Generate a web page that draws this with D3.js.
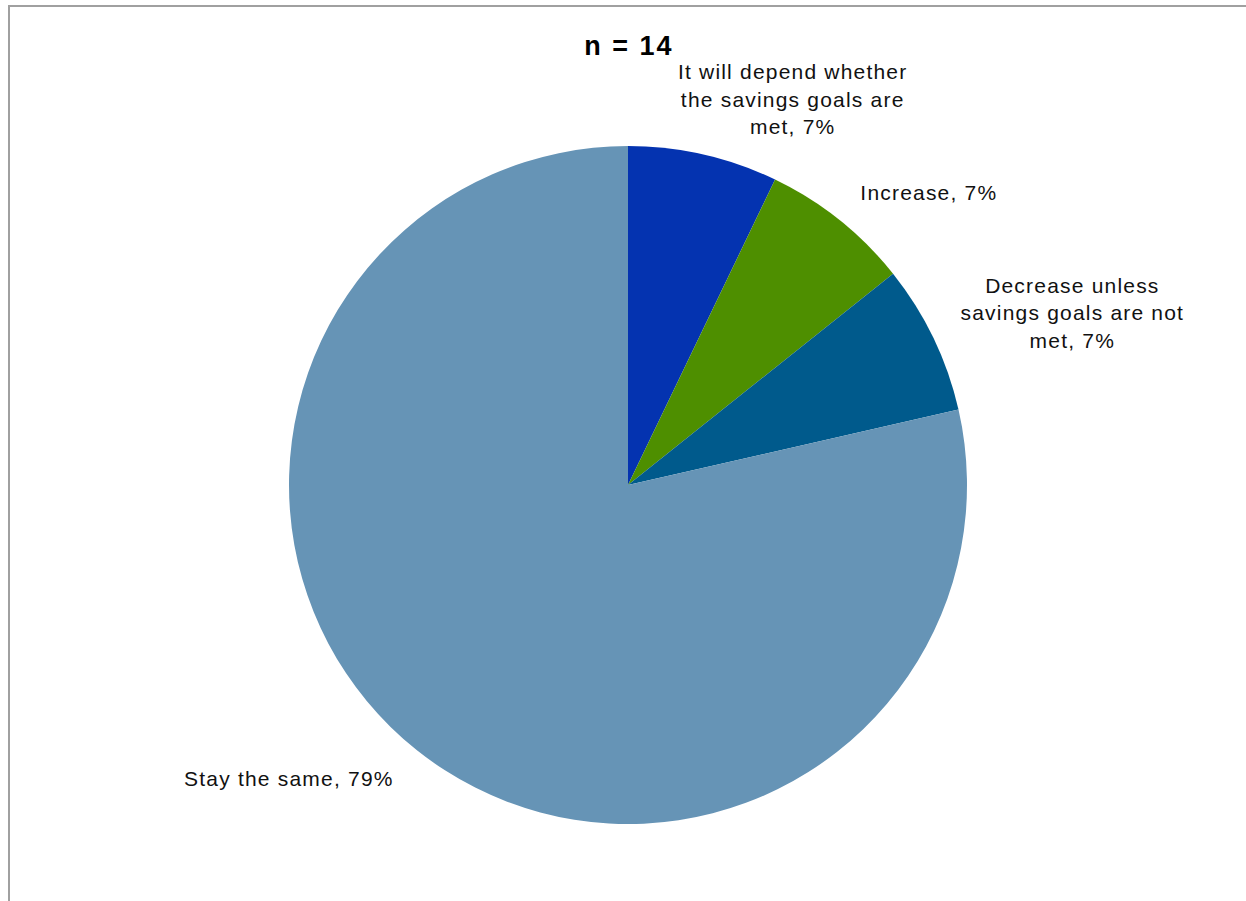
<!DOCTYPE html>
<html lang="en">
<head>
    <meta charset="UTF-8">
    <title>n = 14</title>
    <script src="https://d3js.org/d3.v7.min.js"></script>
    <style>
      body { margin: 0; background: #fff; font-family: "Liberation Sans", Arial, sans-serif; }
      .frame { stroke: #a0a0a0; stroke-width: 2; fill: none; }
      .title { font-size: 27px; font-weight: bold; fill: #000; letter-spacing: 2px; }
      .slice-label { font-size: 21px; fill: #111; letter-spacing: 1.2px; }
    </style>
</head>
<body>
    <svg width="1246" height="901"></svg>
    <script>
      // data
      const categories = [
        ['It will depend whether', 'the savings goals are', 'met, 7%'],
        ['Increase, 7%'],
        ['Decrease unless', 'savings goals are not', 'met, 7%'],
        ['Stay the same, 79%']
      ];
      const values = [1, 1, 1, 11];   // respondents, n = 14
      const colors = ['#0433b0', '#4e8f00', '#005a8c', '#6694b6'];

      const svg = d3.select('svg');

      // chart frame (only left and top edges show in the original)
      svg.append('path')
        .attr('class', 'frame')
        .attr('d', 'M9,901 V6 H1246');

      svg.append('text')
        .attr('class', 'title')
        .attr('x', 629)
        .attr('y', 55)
        .attr('text-anchor', 'middle')
        .text('n = 14');

      const cx = 628, cy = 485, radius = 339;
      const g = svg.append('g').attr('transform', `translate(${cx},${cy})`);

      const pie = d3.pie().sort(null).value(d => d);
      const arcs = pie(values);
      const arc = d3.arc().innerRadius(0).outerRadius(radius);

      g.selectAll('path.slice')
        .data(arcs)
        .enter().append('path')
        .attr('class', 'slice')
        .attr('d', arc)
        .attr('fill', (d, i) => colors[i]);

      // labels sit outside the pie, nudged like Excel's best-fit placement
      const labelRadius = [419, 419, 476, 449];
      const labelAngleShift = [10.2, 7.2, 4.5, 10.6];   // degrees
      const lineHeight = 27.5;

      g.selectAll('text.slice-label')
        .data(arcs)
        .enter().append('text')
        .attr('class', 'slice-label')
        .attr('text-anchor', 'middle')
        .each(function (d, i) {
          const a = (d.startAngle + d.endAngle) / 2 + labelAngleShift[i] * Math.PI / 180;
          const x = Math.sin(a) * labelRadius[i];
          const y = -Math.cos(a) * labelRadius[i];
          const lines = categories[i];
          const y0 = y - (lines.length - 1) * lineHeight / 2;
          d3.select(this).selectAll('tspan')
            .data(lines)
            .enter().append('tspan')
            .attr('x', x + 0.6)
            .attr('y', (t, j) => y0 + j * lineHeight)
            .attr('dy', '0.35em')
            .text(t => t);
        });
    </script>
</body>
</html>
